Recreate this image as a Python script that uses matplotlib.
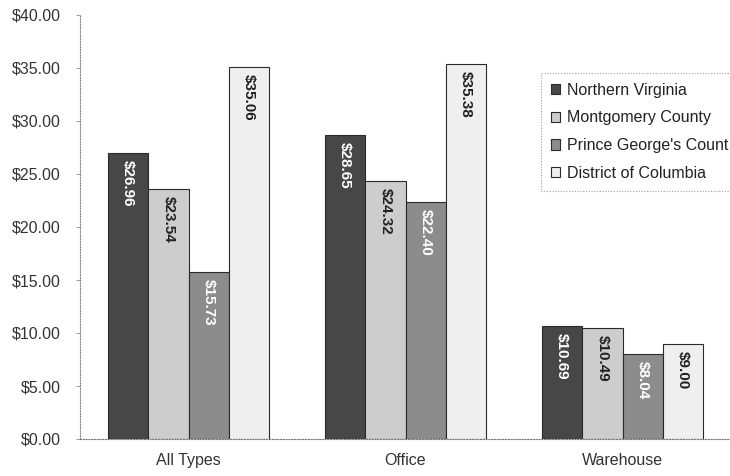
import matplotlib
matplotlib.use("Agg")
import matplotlib.pyplot as plt
import numpy as np

plt.rcParams['font.family'] = ['Liberation Sans', 'DejaVu Sans']

categories = ["All Types", "Office", "Warehouse"]
series_names = ["Northern Virginia", "Montgomery County",
                "Prince George's Count", "District of Columbia"]
northern_virginia = [26.96, 28.65, 10.69]
montgomery_county = [23.54, 24.32, 10.49]
prince_georges = [15.73, 22.40, 8.04]
district_of_columbia = [35.06, 35.38, 9.00]
y_ticks = [0, 5, 10, 15, 20, 25, 30, 35, 40]

series_values = [northern_virginia, montgomery_county, prince_georges,
                 district_of_columbia]
fill_colors = ["#474747", "#cdcdcd", "#8c8c8c", "#efefef"]
label_colors = ["white", "#222222", "white", "#222222"]

fig = plt.figure(figsize=(7.30, 4.76), dpi=100)
ax = fig.add_axes([80 / 730, 37 / 476, 651 / 730, 424 / 476])

x = np.arange(len(categories))
bar_w = 0.185
offsets = (np.arange(4) - 1.5) * bar_w

for vals, off, fc, lc, name in zip(series_values, offsets, fill_colors,
                                   label_colors, series_names):
    bars = ax.bar(x + off, vals, width=bar_w, color=fc, edgecolor="#2a2a2a",
                  linewidth=0.8, label=name, zorder=2)
    for b, v in zip(bars, vals):
        ax.annotate(f"${v:.2f}", (b.get_x() + b.get_width() / 2, v),
                    xytext=(0, -5), textcoords="offset points",
                    rotation=270, ha="center", va="top", fontsize=11,
                    fontweight="bold", color=lc, zorder=3)

ax.set_xlim(-0.5, 2.5)
ax.set_ylim(0, 40)
ax.set_yticks(y_ticks)
ax.set_yticklabels([f"${t:.2f}" for t in y_ticks], fontsize=11.5, color="#333333")
ax.set_xticks(x)
ax.set_xticklabels(categories, fontsize=11.5, color="#333333")
ax.tick_params(axis="x", length=0, pad=10)
ax.tick_params(axis="y", length=3, width=0.6, color="#888888", pad=11)

for side in ("top", "right"):
    ax.spines[side].set_visible(False)
ax.spines["left"].set_linestyle((0, (1, 1.5)))
ax.spines["left"].set_color("#888888")
ax.spines["left"].set_linewidth(0.8)
ax.spines["bottom"].set_linestyle((0, (1, 1.5)))
ax.spines["bottom"].set_color("#777777")
ax.spines["bottom"].set_linewidth(0.8)

# legend box runs off the right edge of the figure
leg = ax.legend(loc="upper left",
                bbox_to_anchor=(541 / 730, 1 - 190 / 476, 200 / 730, 117 / 476),
                bbox_transform=fig.transFigure, mode="expand",
                frameon=True, fancybox=False,
                fontsize=11.5, handlelength=0.6, handleheight=0.6,
                handletextpad=0.4, labelspacing=0.8, borderpad=0.6,
                borderaxespad=0)
frame = leg.get_frame()
frame.set_edgecolor("#888888")
frame.set_linestyle((0, (1, 1.5)))
frame.set_linewidth(0.8)
for t in leg.get_texts():
    t.set_color("#222222")

fig.savefig("out.png", dpi=100)
